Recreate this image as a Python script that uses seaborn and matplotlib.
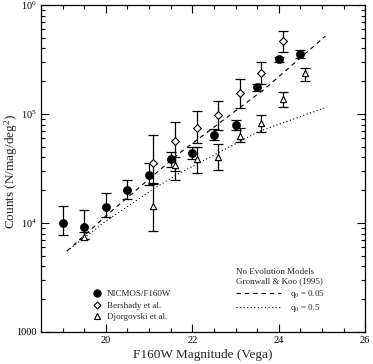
import matplotlib
matplotlib.use("Agg")
import numpy as np
import pandas as pd
import seaborn as sns
import matplotlib.pyplot as plt
from matplotlib.lines import Line2D
from matplotlib.ticker import LogLocator, MultipleLocator, NullFormatter

# NICMOS/F160W counts (filled circles)
nicmos_mag = [19.0, 19.5, 20.0, 20.5, 21.0, 21.5, 22.0, 22.5, 23.0, 23.5, 24.0, 24.5]
nicmos_n = [10000, 9100, 14100, 20000, 27500, 38400, 44100, 64600, 79500, 176000, 317000, 355000]
nicmos_hi = [14200, 13200, 18700, 25000, 35300, 45100, 50100, 73300, 89000, 190000, 335000, 385000]
nicmos_lo = [7800, 7100, 11400, 16600, 22300, 32900, 38400, 57500, 72000, 163000, 300000, 328000]

# Bershady et al. (diamonds)
bersh_mag = [21.1, 21.6, 22.1, 22.6, 23.1, 23.6, 24.1]
bersh_n = [35800, 56900, 74000, 98000, 157000, 240000, 473000]
bersh_hi = [64100, 84000, 106700, 132000, 209000, 300000, 576000]
bersh_lo = [23300, 30000, 53800, 71000, 113000, 188000, 371000]

# Djorgovski et al. (triangles)
djorg_mag = [19.5, 21.1, 21.6, 22.1, 22.6, 23.1, 23.6, 24.1, 24.6]
djorg_n = [7500, 14300, 34000, 38400, 40500, 62900, 83100, 138000, 239000]
djorg_hi = [8200, 22700, 40000, 49500, 52600, 73700, 97000, 158000, 266000]
djorg_lo = [7100, 8500, 25000, 28500, 30600, 55600, 68400, 116000, 200000]

# no evolution models, Gronwall & Koo (1995)
model_mag_a = [19.1, 20.0, 21.7, 23.69, 25.08]
model_n_a = [5530, 11600, 43700, 172000, 520000]     # q0 = 0.05
model_mag_b = [19.1, 20.0, 21.12, 21.7, 23.53, 25.09]
model_n_b = [5530, 10400, 20800, 28600, 68900, 115000]  # q0 = 0.5

sns.set_style("ticks")
plt.rcParams['font.family'] = ['Liberation Serif', 'DejaVu Serif']
plt.rcParams['mathtext.fontset'] = 'custom'
plt.rcParams['mathtext.rm'] = 'Liberation Serif'
plt.rcParams['mathtext.it'] = 'Liberation Serif:italic'

fig, ax = plt.subplots(figsize=(3.73, 3.64), dpi=100)
fig.subplots_adjust(left=0.110, right=0.979, bottom=0.088, top=0.986)

dash_a = (0, (4, 3.5))
dot_b = (0, (1, 2.2))
sns.lineplot(x=model_mag_a, y=model_n_a, ax=ax, color="black", lw=0.8, linestyle=dash_a)
sns.lineplot(x=model_mag_b, y=model_n_b, ax=ax, color="black", lw=0.8, linestyle=dot_b)


def err(n, lo, hi):
    n, lo, hi = np.array(n), np.array(lo), np.array(hi)
    return [n - lo, hi - n]


for mag, n, lo, hi in [(nicmos_mag, nicmos_n, nicmos_lo, nicmos_hi),
                       (bersh_mag, bersh_n, bersh_lo, bersh_hi),
                       (djorg_mag, djorg_n, djorg_lo, djorg_hi)]:
    ax.errorbar(mag, n, yerr=err(n, lo, hi), fmt="none", ecolor="black",
                elinewidth=0.9, capsize=3.5, capthick=0.9)

sns.scatterplot(x=nicmos_mag, y=nicmos_n, ax=ax, marker="o", s=34,
                color="black", edgecolor="black", zorder=3)
sns.scatterplot(x=bersh_mag, y=bersh_n, ax=ax, marker="D", s=16,
                color="white", edgecolor="black", linewidth=0.8, zorder=3)
sns.scatterplot(x=djorg_mag, y=djorg_n, ax=ax, marker="^", s=20,
                color="white", edgecolor="black", linewidth=0.8, zorder=3)

ax.set_yscale("log")
ax.set_xlim(18.5, 26)
ax.set_ylim(1000, 1e6)
ax.set_xticks([20, 22, 24, 26])
ax.xaxis.set_minor_locator(MultipleLocator(0.5))
ax.set_yticks([1e3, 1e4, 1e5, 1e6])
ax.set_yticklabels(["1000", r"$10^4$", r"$10^5$", r"$10^6$"])
ax.yaxis.set_minor_locator(LogLocator(subs=np.arange(2, 10)))
ax.yaxis.set_minor_formatter(NullFormatter())
ax.tick_params(which="both", direction="in", top=True, right=True,
               width=0.8, colors="black", labelsize=7.5, pad=3)
ax.tick_params(which="major", length=6)
ax.tick_params(which="minor", length=3)
for sp in ax.spines.values():
    sp.set_linewidth(0.9)
    sp.set_color("black")

ax.set_xlabel("F160W Magnitude (Vega)", fontsize=9.5, labelpad=3)
ax.set_ylabel(r"Counts (N/mag/deg$^2$)", fontsize=9.5)
ax.yaxis.set_label_coords(-0.066, 0.49)

# data legend
h1 = [Line2D([], [], ls="none", marker="o", ms=5, color="black"),
      Line2D([], [], ls="none", marker="D", ms=3.5, mfc="white", mec="black", mew=0.8),
      Line2D([], [], ls="none", marker="^", ms=4, mfc="white", mec="black", mew=0.8)]
leg1 = ax.legend(h1, ["NICMOS/F160W", "Bershady et al.", "Djorgovski et al."],
                 loc="lower left", bbox_to_anchor=(0.145, 0.019), frameon=False,
                 borderpad=0, handlelength=1, handletextpad=0.6,
                 labelspacing=0.35, fontsize=6.5)
ax.add_artist(leg1)

# model legend
h2 = [Line2D([], [], color="black", lw=0.8, ls=dash_a),
      Line2D([], [], color="black", lw=0.8, ls=dot_b)]
leg2 = ax.legend(h2, [r"q$_0$ = 0.05", r"q$_0$ = 0.5"],
                 title="No Evolution Models\nGronwall & Koo (1995)",
                 title_fontsize=6.5, alignment="left",
                 loc="lower left", bbox_to_anchor=(0.587, 0.040), frameon=False,
                 borderpad=0, handlelength=5, handletextpad=1.0,
                 labelspacing=0.3, fontsize=6.5)

fig.savefig("out.png", dpi=100)
